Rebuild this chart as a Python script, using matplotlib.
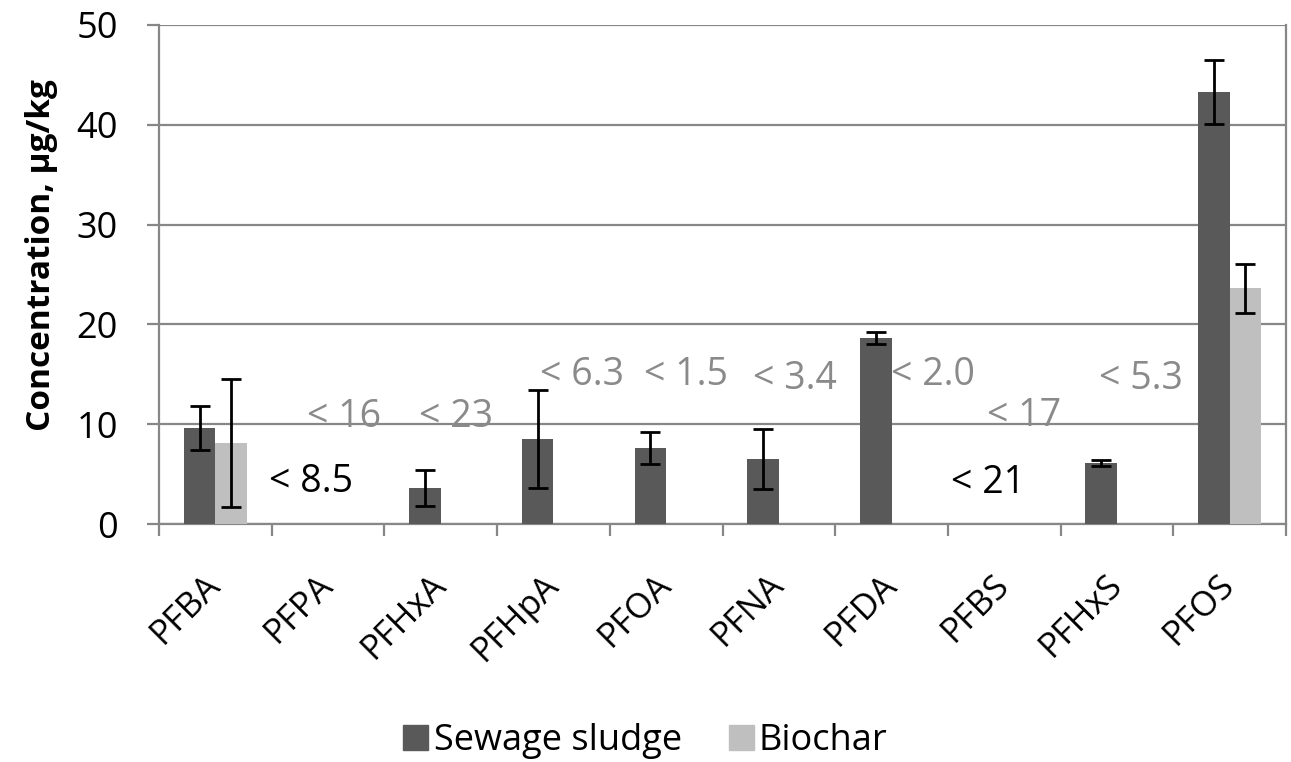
import numpy as np
import matplotlib.pyplot as plt
from matplotlib.patches import Patch

plt.rcParams['font.family'] = ['Open Sans', 'DejaVu Sans']

compounds = ["PFBA", "PFPA", "PFHxA", "PFHpA", "PFOA", "PFNA", "PFDA", "PFBS", "PFHxS", "PFOS"]
sludge = [9.6, 0, 3.6, 8.5, 7.6, 6.5, 18.6, 0, 6.1, 43.3]
sludge_err = [2.2, 0, 1.8, 4.9, 1.6, 3.0, 0.6, 0, 0.3, 3.2]
biochar = [8.1, 0, 0, 0, 0, 0, 0, 0, 0, 23.6]
biochar_err = [6.4, 0, 0, 0, 0, 0, 0, 0, 0, 2.5]

# detection limits written on the chart (black = sludge, grey = biochar)
lod_text = ["< 8.5", "< 16", "< 23", "< 6.3", "< 1.5", "< 3.4", "< 2.0", "< 17", "< 21", "< 5.3"]
lod_x = [0.85, 1.14, 2.135, 3.25, 4.18, 5.14, 6.37, 7.18, 6.86, 8.21]
lod_y = [3.2, 9.7, 9.7, 13.9, 13.9, 13.5, 13.9, 9.8, 3.1, 13.5]
lod_color = ["black", "grey", "grey", "grey", "grey", "grey", "grey", "grey", "black", "grey"]

c_sludge = "#595959"
c_bio = "#bfbfbf"
c_grid = "#878787"

fig = plt.figure(figsize=(12.91, 7.62), dpi=100)
ax = fig.add_axes([159/1291, 1 - 524/762, (1286 - 159)/1291, (524 - 25)/762])

x = np.arange(len(compounds))
w = 0.28
ebar = dict(ecolor="black", elinewidth=2, capsize=7, capthick=2)

s_err = [e if v > 0 else np.nan for v, e in zip(sludge, sludge_err)]
b_err = [e if v > 0 else np.nan for v, e in zip(biochar, biochar_err)]
ax.bar(x - w/2, sludge, w, color=c_sludge, yerr=s_err, error_kw=ebar, zorder=3)
ax.bar(x + w/2, biochar, w, color=c_bio, yerr=b_err, error_kw=ebar, zorder=3)

for t, tx, ty, tc in zip(lod_text, lod_x, lod_y, lod_color):
    ax.text(tx, ty, t, ha="center", va="baseline", fontsize=27,
            color="black" if tc == "black" else "#8a8a8a", zorder=4)

ax.set_xlim(-0.5, len(compounds) - 0.5)
ax.set_ylim(0, 50)
ax.set_yticks(np.arange(0, 51, 10))
ax.yaxis.grid(True, color=c_grid, linewidth=1.6, zorder=0)
ax.set_axisbelow(True)

ax.set_xticks(np.arange(-0.5, len(compounds), 1))
ax.set_xticklabels([])
ax.set_xticks(x, minor=True)
ax.set_xticklabels(compounds, minor=True, rotation=45, ha="right", va="center",
                   rotation_mode="anchor", fontsize=25)
ax.tick_params(axis="x", which="minor", length=0, pad=40)
ax.tick_params(axis="x", which="major", length=8.6, width=1.6, color=c_grid)
ax.tick_params(axis="y", length=8.6, width=1.6, color=c_grid, labelsize=26, pad=21)

for side in ["left", "bottom", "right"]:
    ax.spines[side].set_color(c_grid)
    ax.spines[side].set_linewidth(1.6)
ax.spines["top"].set_visible(False)

ax.set_ylabel("Concentration, µg/kg", fontsize=24, fontweight="bold")
ax.yaxis.set_label_coords(-0.0896, 0.539)

handles = [Patch(color=c_sludge, label="Sewage sludge"), Patch(color=c_bio, label="Biochar")]
fig.legend(handles=handles, loc="center", bbox_to_anchor=(0.5, 1 - 741/762), ncol=2,
           frameon=False, fontsize=26, handlelength=0.69, handleheight=0.69,
           handletextpad=0.15, columnspacing=1.3)

fig.savefig("out.png", dpi=100)
